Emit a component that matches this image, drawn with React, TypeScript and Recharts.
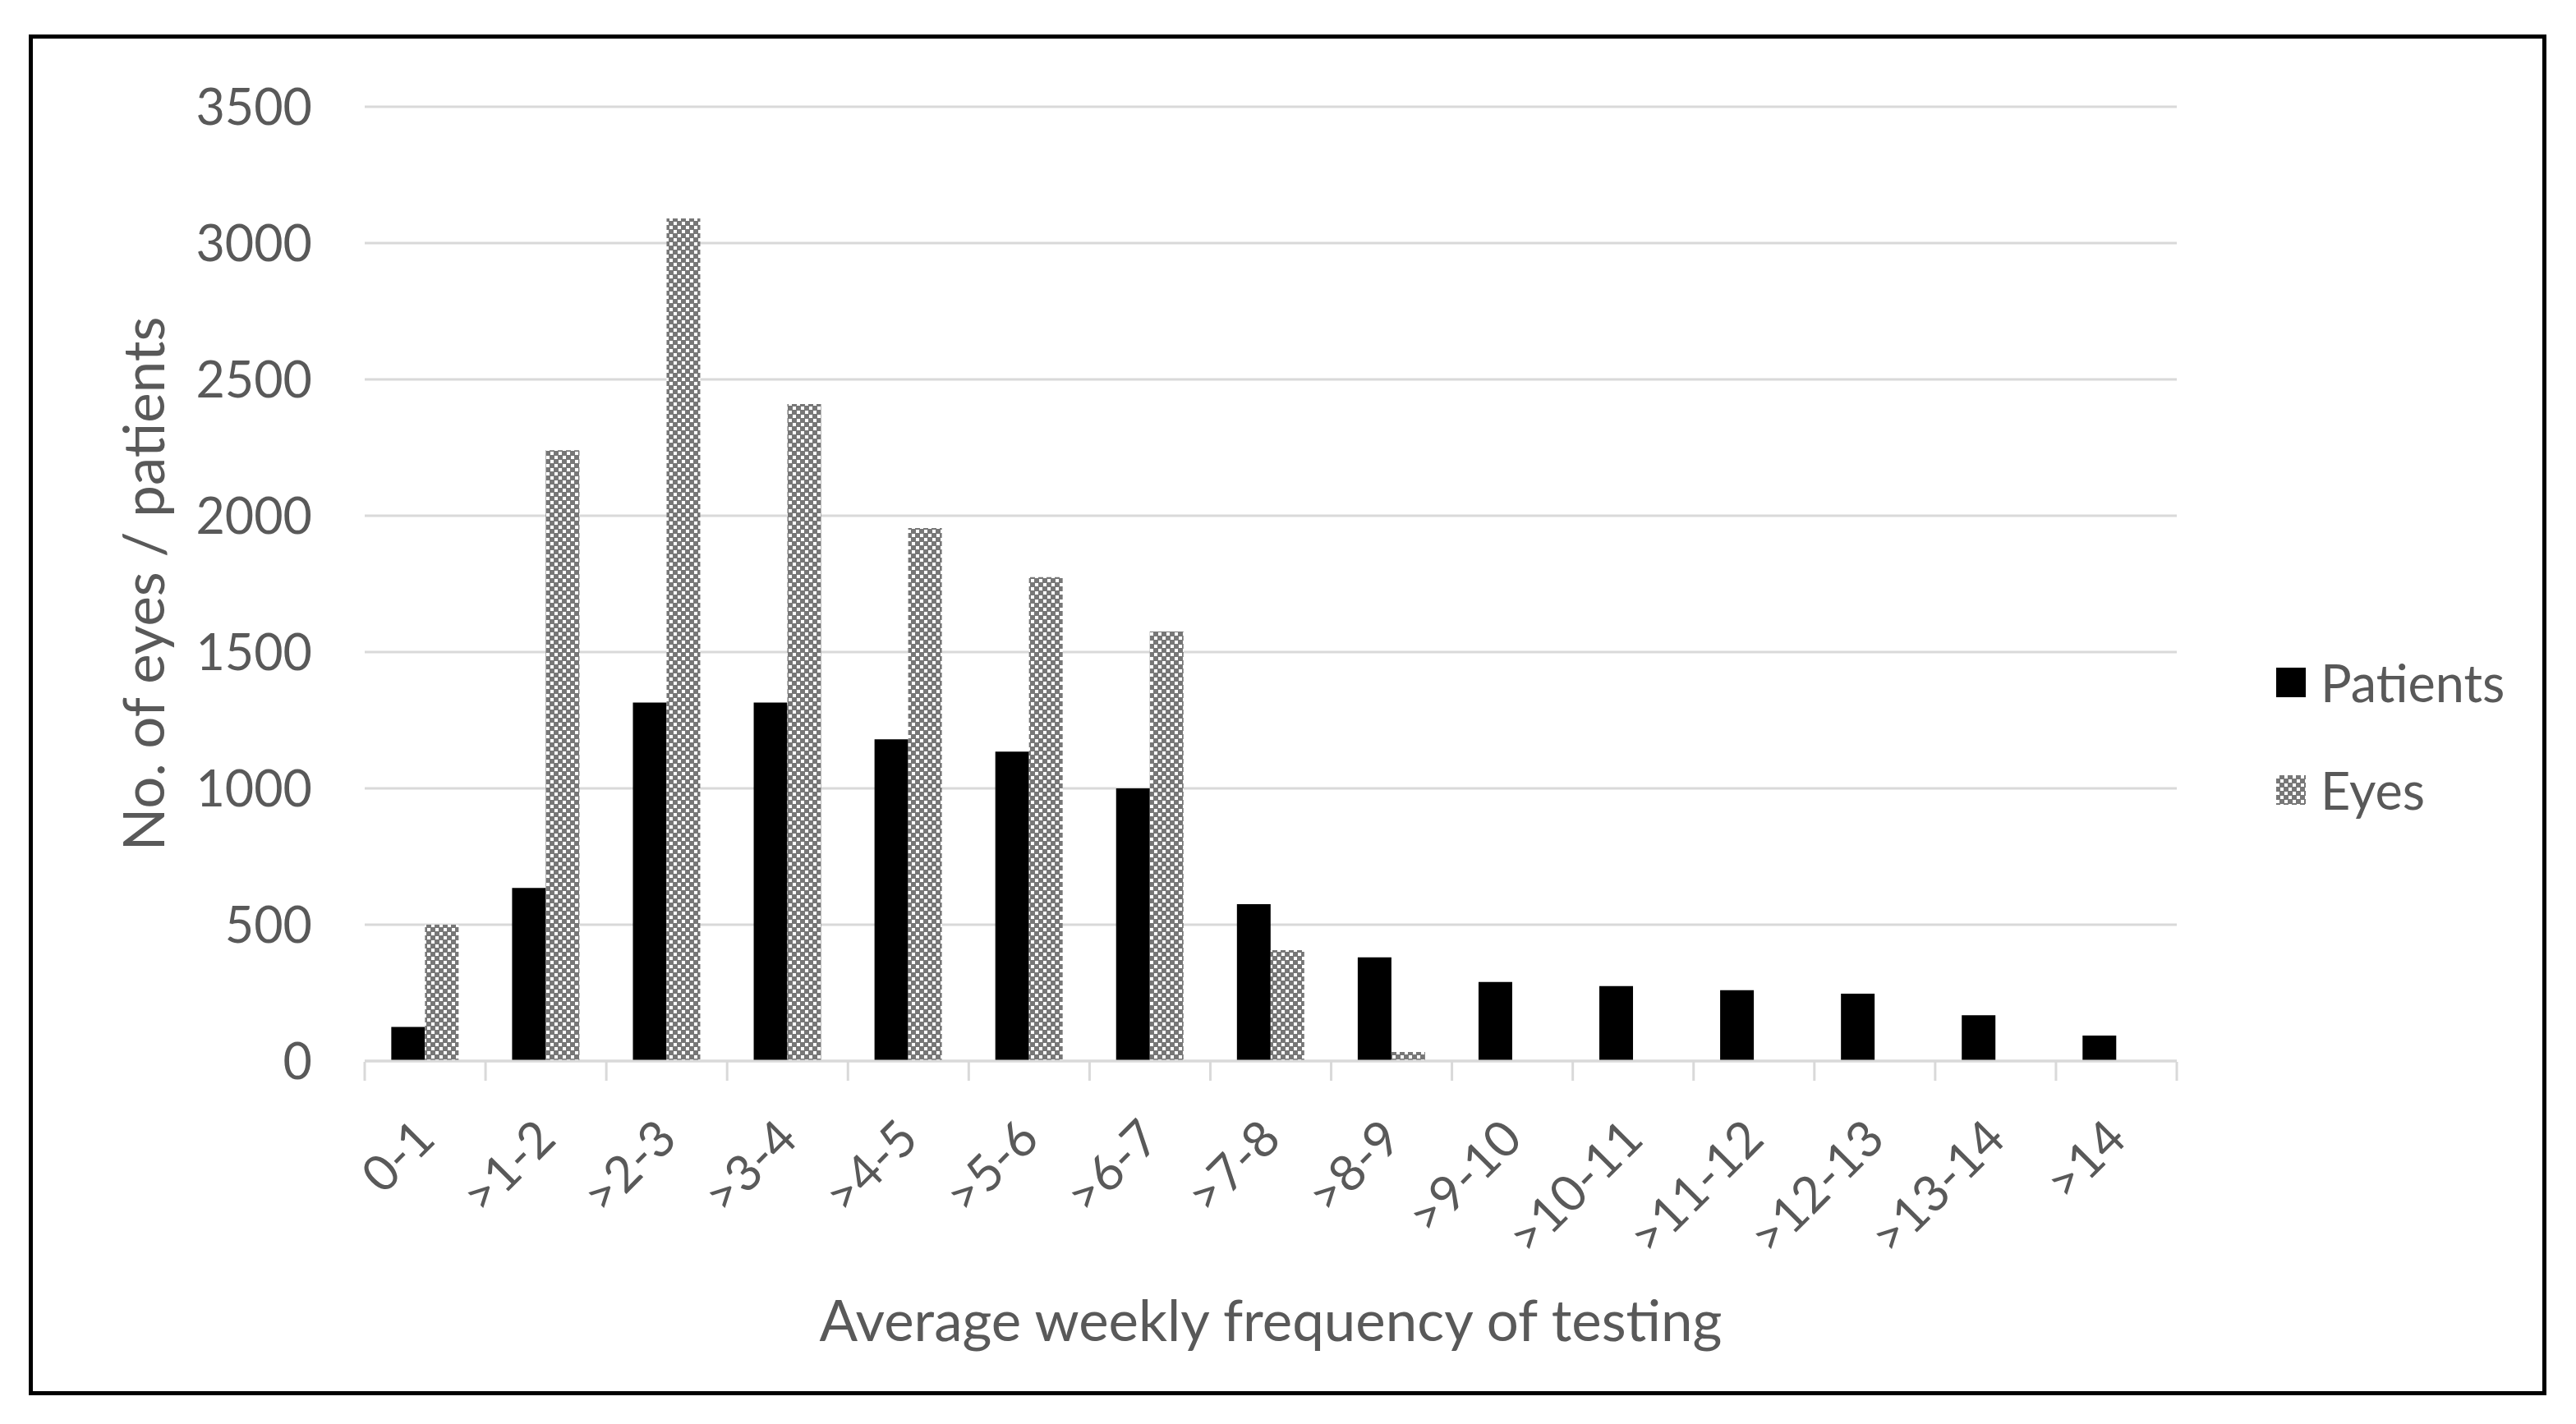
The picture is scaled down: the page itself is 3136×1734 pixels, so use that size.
import React from 'react';
import { BarChart, Bar, XAxis, YAxis, CartesianGrid, Legend, Label } from 'recharts';

// frequency bins (tests per week)
const categories = ['0-1', '>1-2', '>2-3', '>3-4', '>4-5', '>5-6', '>6-7', '>7-8', '>8-9', '>9-10', '>10-11', '>11-12', '>12-13', '>13-14', '>14'];
const patients = [125, 635, 1315, 1315, 1180, 1135, 1000, 575, 380, 290, 275, 260, 247, 168, 93];
const eyes = [500, 2240, 3090, 2410, 1955, 1775, 1575, 407, 33, 0, 0, 0, 0, 0, 0];
const seriesNames = ['Patients', 'Eyes'];
const yTicks = [0, 500, 1000, 1500, 2000, 2500, 3000, 3500];
const edgeTicks = [0, 1, 2, 3, 4, 5, 6, 7, 8, 9, 10, 11, 12, 13, 14, 15];

// mid = position of each bin on a 0..15 scale, used only for the divider ticks
const data = categories.map((name, i) => ({ name, mid: i + 0.5, Patients: patients[i], Eyes: eyes[i] }));

const FONT = 'Lato, "Open Sans", sans-serif';
const TEXT = '#595959';
const LINE = '#d9d9d9';

const XTick = (props: any) => {
  const { x, y, payload } = props;
  const ax = x + 15;
  const ay = y + 98;
  return (
    <text x={ax} y={ay} textAnchor="end" fill={TEXT} fontSize={61} fontFamily={FONT}
      transform={`rotate(-45 ${ax} ${ay})`}>
      {payload.value}
    </text>
  );
};

const renderLegend = (props: any) => {
  const items = [...(props.payload || [])].sort(
    (a: any, b: any) => seriesNames.indexOf(a.value) - seriesNames.indexOf(b.value)
  );
  return (
    <div style={{ fontFamily: FONT, fontSize: 63, color: TEXT }}>
      {items.map((entry: any) => (
        <div key={entry.value} style={{ display: 'flex', alignItems: 'center', height: 131 }}>
          <svg width={36} height={36} style={{ display: 'block' }}>
            <rect width={36} height={36} fill={entry.color} />
          </svg>
          <span style={{ marginLeft: 18, lineHeight: 1 }}>{entry.value}</span>
        </div>
      ))}
    </div>
  );
};

const App: React.FC = () => {
  return (
    <div style={{ position: 'absolute', left: 0, top: 0, width: 3136, height: 1734, background: '#fff' }}>
      <div style={{ position: 'absolute', left: 35, top: 42, width: 3065, height: 1657, border: '5px solid #000', boxSizing: 'border-box' }} />
      <div style={{ position: 'absolute', left: 0, top: 0 }}>
        <BarChart width={3136} height={1734} data={data}
          margin={{ top: 130, right: 486, bottom: 440, left: 144 }}
          barCategoryGap="22%" barGap={0}>
          <defs>
            <pattern id="checker" width={10} height={10} patternUnits="userSpaceOnUse">
              <rect width={10} height={10} fill="#777777" />
              <rect x={0} y={0} width={4} height={4} fill="#ffffff" />
              <rect x={5} y={5} width={4} height={4} fill="#ffffff" />
            </pattern>
          </defs>
          <CartesianGrid vertical={false} stroke={LINE} strokeWidth={3} xAxisId="cat" />
          <XAxis xAxisId="edges" dataKey="mid" type="number" domain={[0, 15]} allowDataOverflow ticks={edgeTicks} height={1}
            axisLine={false} tickLine={{ stroke: LINE, strokeWidth: 3 }} tickSize={23}
            tickFormatter={() => ''} interval={0} />
          <XAxis xAxisId="cat" dataKey="name" height={1} interval={0}
            axisLine={{ stroke: LINE, strokeWidth: 3 }} tickLine={false} tickSize={0} tickMargin={0}
            tick={<XTick />}>
            <Label content={(p: any) => {
              const vb = p.viewBox;
              return (
                <text x={vb.x + vb.width / 2} y={1633} textAnchor="middle" fill={TEXT} fontSize={69} fontFamily={FONT}>
                  Average weekly frequency of testing
                </text>
              );
            }} />
          </XAxis>
          <YAxis domain={[0, 3500]} ticks={yTicks} width={300} axisLine={false} tickLine={false}
            tickSize={0} tickMargin={64} interval={0}
            tick={{ fill: TEXT, fontSize: 61, fontFamily: FONT }}>
            <Label content={(p: any) => {
              const vb = p.viewBox;
              const cy = vb.y + vb.height / 2;
              return (
                <text x={200} y={cy} textAnchor="middle" fill={TEXT} fontSize={69} fontFamily={FONT}
                  transform={`rotate(-90 200 ${cy})`}>
                  No. of eyes / patients
                </text>
              );
            }} />
          </YAxis>
          <Legend layout="vertical" align="center" verticalAlign="middle" content={renderLegend}
            wrapperStyle={{ left: 2771, top: 765, width: 'auto' }} />
          <Bar xAxisId="cat" dataKey="Patients" fill="#000000" isAnimationActive={false} />
          <Bar xAxisId="cat" dataKey="Eyes" fill="url(#checker)" isAnimationActive={false} />
        </BarChart>
      </div>
    </div>
  );
};

export default App;
